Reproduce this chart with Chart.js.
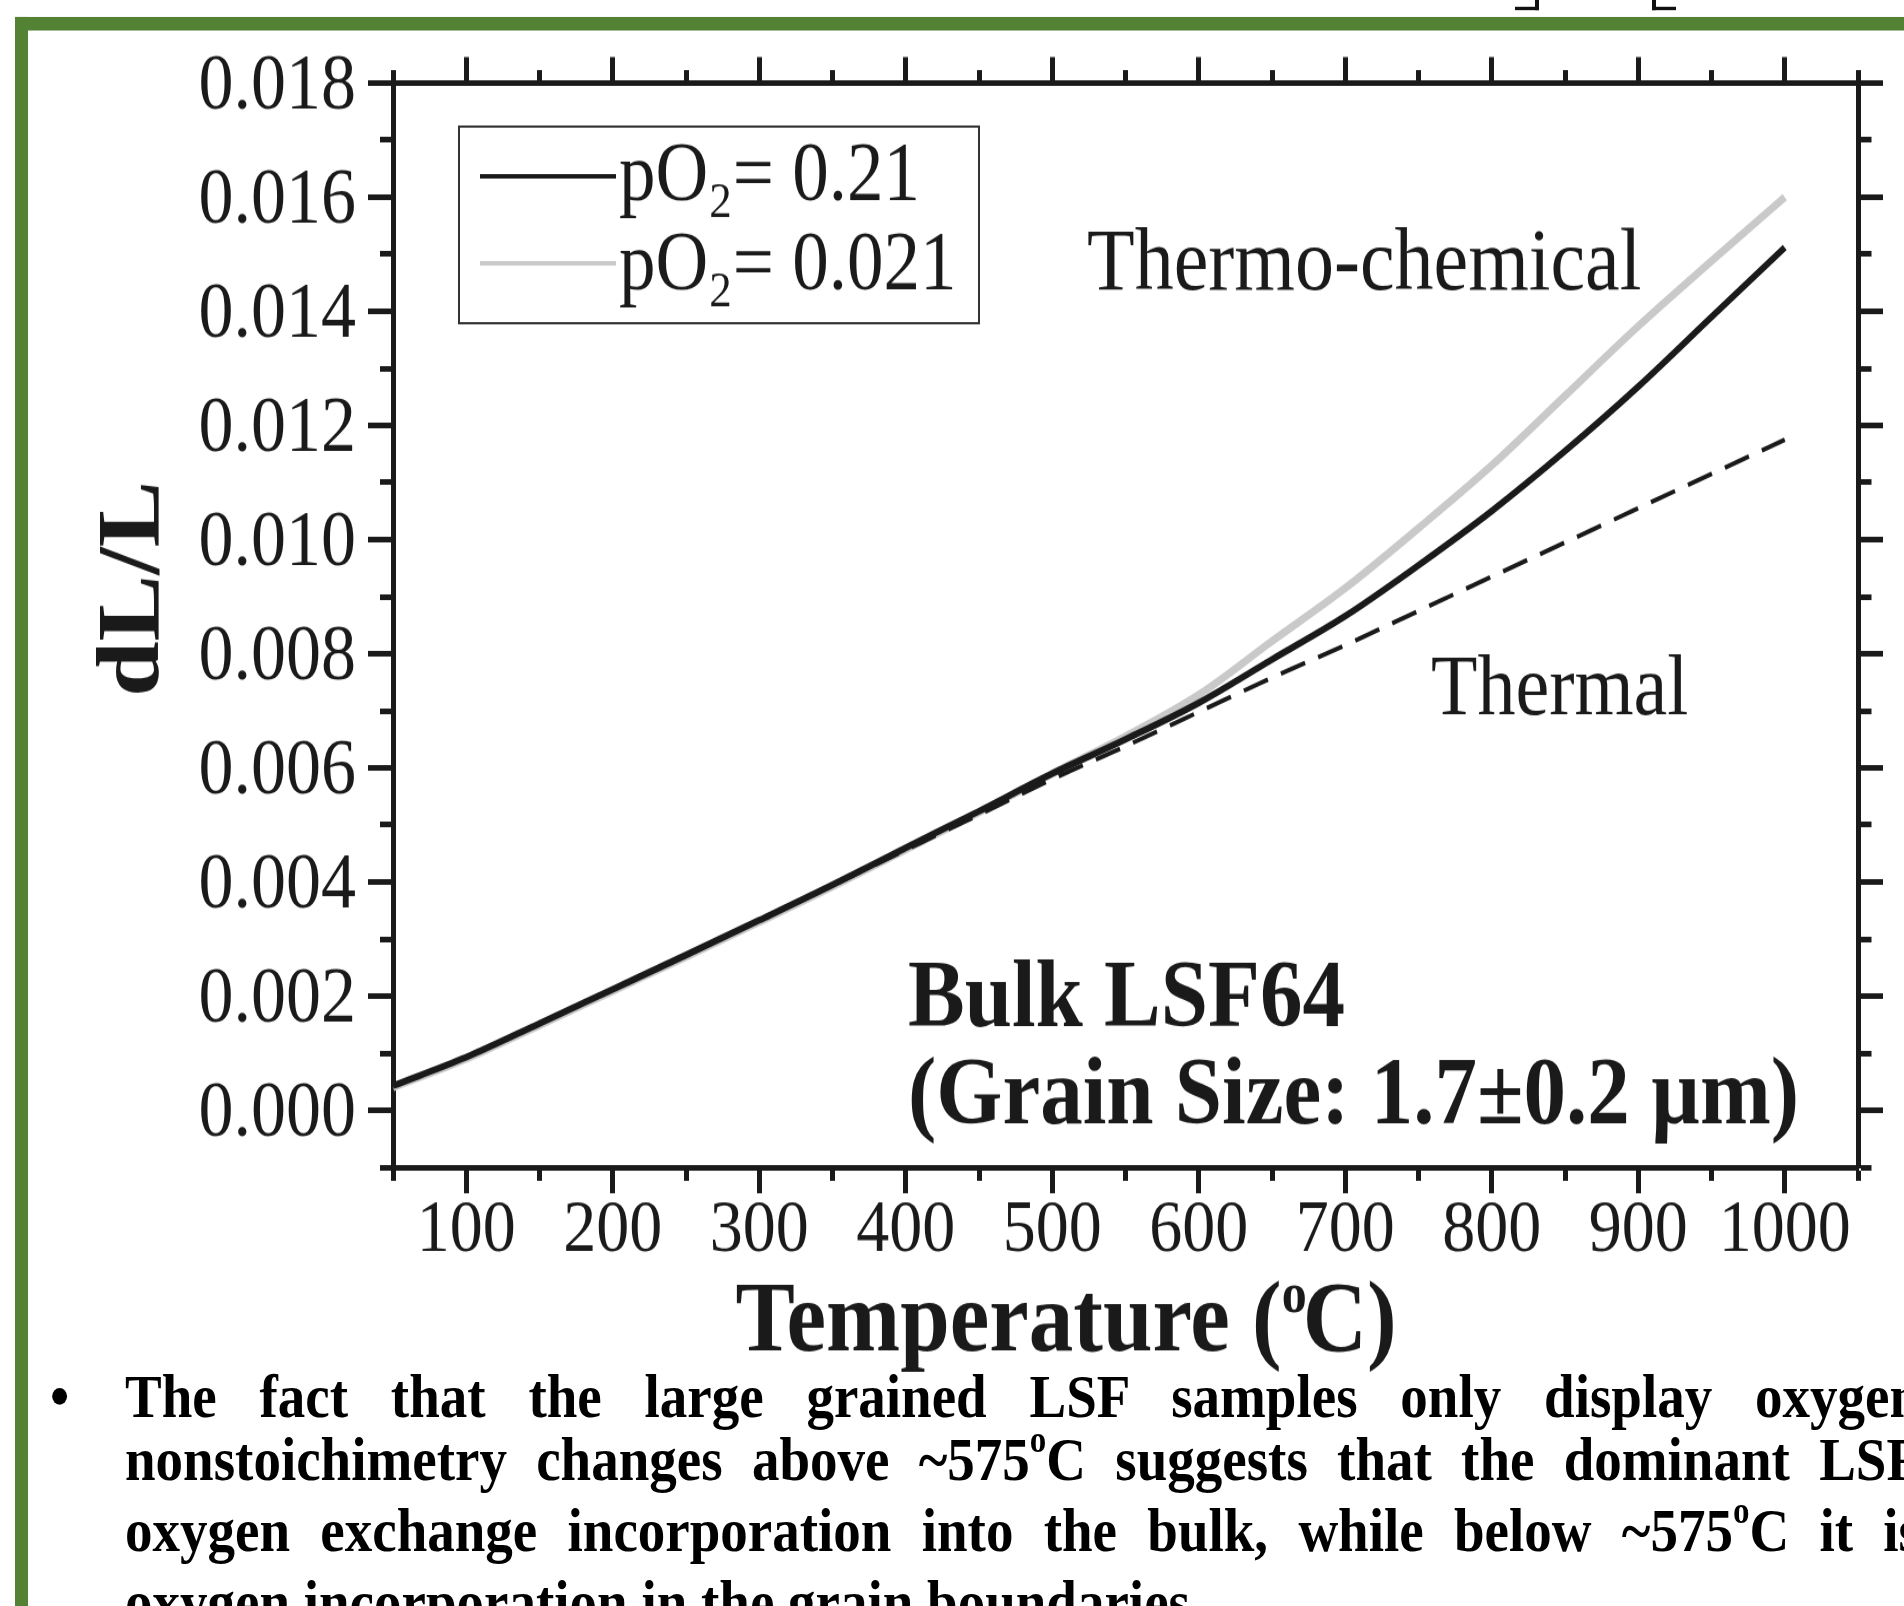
<!DOCTYPE html>
<html>
<head>
<meta charset="utf-8">
<script src="https://cdn.jsdelivr.net/npm/chart.js@4/dist/chart.umd.min.js"></script>
<style>
  body { margin: 0; width: 1904px; height: 1606px; overflow: hidden; background: #fff; }
  /* the source picture is stretched vertically, so the whole page is too */
  #page { position: absolute; left: 0; top: 0; width: 1904px; height: 1422px; transform: scaleY(1.13); transform-origin: 0 0; }
  .frameTop { position: absolute; left: 15px; top: 15px; width: 1889px; height: 11.5px; background: #548235; }
  .frameLeft { position: absolute; left: 15px; top: 15px; width: 13px; height: 1420px; background: #548235; }
  .frag { position: absolute; top: 0; height: 6px; width: 20px; border-bottom: 3px solid #111; }
  #wrap { position: absolute; left: 0; top: 0; }
  #notes { position: absolute; left: 0; top: 1207.5px; font: bold 55px "Liberation Serif", "Times New Roman", serif; line-height: 56px; color: #000; }
  #notes .bullet { position: absolute; left: 50px; top: 0; }
  #notes .line { position: relative; left: 125px; width: 1795px; text-align: justify; text-align-last: justify; white-space: nowrap; }
  #notes .line.last { text-align-last: left; }
  #notes .sup { font-size: 0.6em; position: relative; top: -0.75em; }
</style>
</head>
<body>
<div id="page">
  <div class="frag" style="left:1515px; border-right:4px solid #111;"></div>
  <div class="frag" style="left:1652px; border-left:4px solid #111;"></div>
  <div class="frameTop"></div>
  <div class="frameLeft"></div>
  <div id="wrap"><canvas id="myChart" width="1904" height="1230"></canvas></div>
  <div id="notes">
    <span class="bullet">•</span>
    <div class="line">The fact that the large grained LSF samples only display oxygen</div>
    <div class="line">nonstoichimetry changes above ~575<span class="sup">o</span>C suggests that the dominant LSF</div>
    <div class="line">oxygen exchange incorporation into the bulk, while below ~575<span class="sup">o</span>C it is</div>
    <div class="line last">oxygen incorporation in the grain boundaries.</div>
  </div>
</div>

<script>
// Temperature (°C) where the curves were read
const temperature = [50, 100, 150, 200, 250, 300, 350, 400, 450, 500,
                     550, 600, 650, 700, 750, 800, 850, 900, 950, 1000];

// dL/L, pO2 = 0.21 (black)
const dlHighO2 = [0.00043, 0.00093, 0.00152, 0.00212, 0.00272, 0.00333, 0.00395, 0.00460, 0.00524, 0.00590,
                  0.00650, 0.00714, 0.00790, 0.00866, 0.00955, 0.01050, 0.01155, 0.01268, 0.01390, 0.01512];

// dL/L, pO2 = 0.021 (grey)
const dlLowO2 = [0.00040, 0.00090, 0.00149, 0.00209, 0.00269, 0.00330, 0.00392, 0.00457, 0.00522, 0.00590,
                 0.00655, 0.00728, 0.00822, 0.00915, 0.01020, 0.01130, 0.01252, 0.01374, 0.01488, 0.01600];

// thermal expansion only (dashed)
const dlThermal = [0.00043, 0.00093, 0.00152, 0.00212, 0.00272, 0.00333, 0.00394, 0.00456, 0.00518, 0.00580,
                   0.00638, 0.00698, 0.00758, 0.00815, 0.00875, 0.00935, 0.00995, 0.01055, 0.01115, 0.01175];

// axis ranges and steps
const xRange = [50, 1050];
const yRange = [-0.001, 0.018];
const xMinorStep = 50;
const yMinorStep = 0.001;

const INK = '#1a1a1a';
const GREY = '#c9c9c9';
const SERIF = '"Liberation Serif", "Times New Roman", serif';

function isMajorX(v) { return Math.round(v) % 100 === 0; }
function isMajorY(v) { return Math.round(v * 1000) % 2 === 0; }

// minor ticks are shorter: hide part of the tick with a dash pattern
// left/top ticks are drawn from the outer end, bottom/right from the axis
function tickDash(isMajor, fromOuter, len, minorLen) {
    return (ctx) => {
        if (!ctx.tick || isMajor(ctx.tick.value)) return [];
        return fromOuter ? [0, len - minorLen, 80, 1000] : [minorLen - 2.5, 1000];
    };
}

function gridOpts(isMajor, fromOuter, len, minorLen) {
    return {
        drawOnChartArea: false,
        drawTicks: true,
        tickLength: len,
        tickWidth: 5,
        tickColor: INK,
        tickBorderDash: tickDash(isMajor, fromOuter, len, minorLen)
    };
}

const borderOpts = { display: true, width: 5, color: INK };

function series(values) {
    return temperature.map((t, i) => ({ x: t, y: values[i] }));
}

// Legend, curve labels, axis titles
const annotations = {
    id: 'annotations',
    afterDraw(chart) {
        const ctx = chart.ctx;
        ctx.save();
        ctx.fillStyle = INK;
        ctx.textBaseline = 'alphabetic';
        ctx.textAlign = 'left';

        // legend box
        ctx.strokeStyle = '#333';
        ctx.lineWidth = 2;
        ctx.strokeRect(459, 112, 520, 174);

        const entries = [
            { color: INK, y: 156, base: 177, value: '0.21' },
            { color: GREY, y: 233, base: 256, value: '0.021' }
        ];
        entries.forEach(e => {
            ctx.strokeStyle = e.color;
            ctx.lineWidth = 4;
            ctx.beginPath();
            ctx.moveTo(480, e.y);
            ctx.lineTo(616, e.y);
            ctx.stroke();

            let x = 619;
            ctx.font = '73px ' + SERIF;
            ctx.fillText('pO', x, e.base);
            x += ctx.measureText('pO').width;
            ctx.font = '45px ' + SERIF;
            ctx.fillText('2', x + 1, e.base + 15);
            x += ctx.measureText('2').width + 2;
            ctx.font = '73px ' + SERIF;
            ctx.fillText('= ' + e.value, x, e.base);
        });

        ctx.font = '78px ' + SERIF;
        ctx.fillText('Thermo-chemical', 1087, 256);
        ctx.font = '76px ' + SERIF;
        ctx.fillText('Thermal', 1431, 632);

        ctx.font = 'bold 85px ' + SERIF;
        ctx.fillText('Bulk LSF64', 908, 908);
        ctx.font = 'bold 85px ' + SERIF;
        ctx.fillText('(Grain Size: 1.7±0.2 µm)', 908, 994);

        // y title
        ctx.save();
        ctx.translate(158, 521);
        ctx.rotate(-Math.PI / 2);
        ctx.textAlign = 'center';
        ctx.font = 'bold 88px ' + SERIF;
        ctx.fillText('dL/L', 0, 0);
        ctx.restore();

        // x title with superscript o
        const big = 'bold 89px ' + SERIF;
        const small = 'bold 50px ' + SERIF;
        ctx.font = big;
        const w1 = ctx.measureText('Temperature (').width;
        const w3 = ctx.measureText('C)').width;
        ctx.font = small;
        const w2 = ctx.measureText('o').width;
        let x = 1068 - (w1 + w2 + w3) / 2;
        const base = 1195;
        ctx.font = big;
        ctx.fillText('Temperature (', x, base);
        x += w1;
        ctx.font = small;
        ctx.fillText('o', x, base - 34);
        x += w2 - 4;
        ctx.font = big;
        ctx.fillText('C)', x, base);

        ctx.restore();
    }
};

document.addEventListener('DOMContentLoaded', function () {
    const ctx = document.getElementById('myChart').getContext('2d');
    new Chart(ctx, {
        type: 'line',
        data: {
            datasets: [
                {
                    label: 'Thermal',
                    data: series(dlThermal),
                    borderColor: INK,
                    borderWidth: 4,
                    borderDash: [26, 14],
                    pointRadius: 0,
                    cubicInterpolationMode: 'monotone',
                    order: 0
                },
                {
                    label: 'pO2 = 0.21',
                    data: series(dlHighO2),
                    borderColor: INK,
                    borderWidth: 6,
                    pointRadius: 0,
                    cubicInterpolationMode: 'monotone',
                    order: 1
                },
                {
                    label: 'pO2 = 0.021',
                    data: series(dlLowO2),
                    borderColor: GREY,
                    borderWidth: 7,
                    pointRadius: 0,
                    cubicInterpolationMode: 'monotone',
                    order: 2
                }
            ]
        },
        options: {
            responsive: false,
            animation: false,
            layout: { padding: 0 },
            plugins: {
                legend: { display: false },
                tooltip: { enabled: false }
            },
            scales: {
                x: {
                    type: 'linear',
                    position: 'bottom',
                    min: xRange[0], max: xRange[1],
                    border: borderOpts,
                    grid: gridOpts(isMajorX, false, 23, 11.5),
                    ticks: {
                        stepSize: xMinorStep,
                        autoSkip: false,
                        maxRotation: 0,
                        padding: -6,
                        color: INK,
                        font: { family: SERIF, size: 66 },
                        callback: (v) => (isMajorX(v) && v >= 100 && v <= 1000) ? String(v) : ''
                    },
                    afterFit: (scale) => { scale.height = 1230 - 1033; }
                },
                xTop: {
                    type: 'linear',
                    position: 'top',
                    min: xRange[0], max: xRange[1],
                    border: borderOpts,
                    grid: gridOpts(isMajorX, true, 23, 11.5),
                    ticks: { stepSize: xMinorStep, autoSkip: false, display: false },
                    afterFit: (scale) => { scale.height = 73.5; }
                },
                y: {
                    type: 'linear',
                    position: 'left',
                    min: yRange[0], max: yRange[1],
                    border: borderOpts,
                    grid: gridOpts(isMajorY, true, 25, 13),
                    ticks: {
                        stepSize: yMinorStep,
                        autoSkip: false,
                        padding: 12,
                        labelOffset: 4,
                        color: INK,
                        font: { family: SERIF, size: 70 },
                        callback: (v) => isMajorY(v) && v >= 0 ? v.toFixed(3) : ''
                    },
                    afterFit: (scale) => { scale.width = 393; }
                },
                yRight: {
                    type: 'linear',
                    position: 'right',
                    min: yRange[0], max: yRange[1],
                    border: borderOpts,
                    grid: gridOpts(isMajorY, false, 25, 13),
                    ticks: { stepSize: yMinorStep, autoSkip: false, display: false },
                    afterFit: (scale) => { scale.width = 1904 - 1858; }
                }
            }
        },
        plugins: [annotations]
    });
});
</script>
</body>
</html>
